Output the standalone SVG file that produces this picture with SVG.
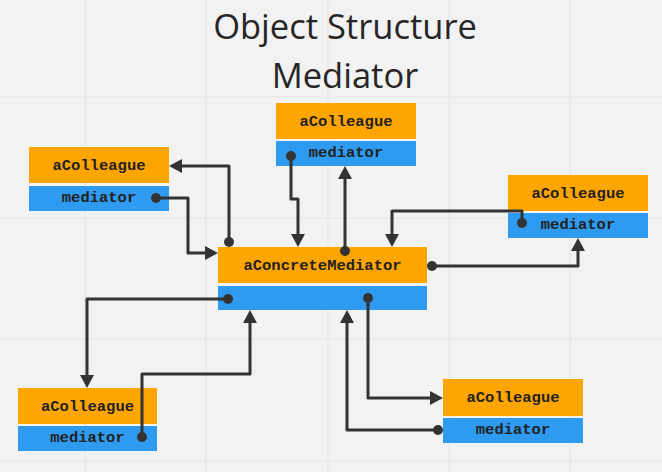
<svg xmlns="http://www.w3.org/2000/svg" width="662" height="472" viewBox="0 0 662 472">
<style>
.grid{stroke:#e3e3e3;stroke-width:1}
.hd{fill:#FFA500}
.bd{fill:#2E9BF0}
.lbl{font-family:"Liberation Mono",monospace;font-weight:bold;font-size:15.5px;fill:#222;text-anchor:middle}
.title{font-family:"Open Sans","Noto Sans",sans-serif;font-size:34.5px;fill:#262626;text-anchor:middle}
.conn{fill:none;stroke:#333;stroke-width:3;stroke-linejoin:round}
.dot{fill:#333}
</style>
<defs>
<marker id="arr" markerUnits="userSpaceOnUse" markerWidth="14" markerHeight="14" refX="7" refY="7" orient="auto">
<path d="M0,0 L13,7 L0,14 z" fill="#333"/>
</marker>
</defs>
<rect width="662" height="472" fill="#f2f2f2"/>
<g id="grid">
<line class="grid" x1="85" y1="0" x2="85" y2="472"/>
<line class="grid" x1="206" y1="0" x2="206" y2="472"/>
<line class="grid" x1="328" y1="0" x2="328" y2="472"/>
<line class="grid" x1="449" y1="0" x2="449" y2="472"/>
<line class="grid" x1="570" y1="0" x2="570" y2="472"/>
<line class="grid" x1="0" y1="97" x2="662" y2="97"/>
<line class="grid" x1="0" y1="218" x2="662" y2="218"/>
<line class="grid" x1="0" y1="339" x2="662" y2="339"/>
<line class="grid" x1="0" y1="461" x2="662" y2="461"/>
</g>
<g id="title">
<text class="title" x="345" y="39">Object Structure</text>
<text class="title" x="345" y="88">Mediator</text>
</g>
<g id="colleague-topleft">
<rect class="hd" x="29" y="147" width="140" height="36"/>
<rect class="bd" x="29" y="186" width="140" height="25"/>
<text class="lbl" x="99" y="170">aColleague</text>
<text class="lbl" x="99" y="202">mediator</text>
</g>
<g id="colleague-top">
<rect class="hd" x="276" y="103" width="140" height="36"/>
<rect class="bd" x="276" y="141" width="140" height="25"/>
<text class="lbl" x="346" y="126">aColleague</text>
<text class="lbl" x="346" y="157">mediator</text>
</g>
<g id="colleague-right">
<rect class="hd" x="508" y="175" width="140" height="36"/>
<rect class="bd" x="508" y="213" width="140" height="25"/>
<text class="lbl" x="578" y="198">aColleague</text>
<text class="lbl" x="578" y="229">mediator</text>
</g>
<g id="concrete-mediator">
<rect class="hd" x="218" y="247" width="209" height="36"/>
<rect class="bd" x="218" y="286" width="209" height="24"/>
<text class="lbl" x="322.5" y="270">aConcreteMediator</text>
</g>
<g id="colleague-bottomleft">
<rect class="hd" x="18" y="388" width="139" height="36"/>
<rect class="bd" x="18" y="426" width="139" height="25"/>
<text class="lbl" x="87.5" y="411">aColleague</text>
<text class="lbl" x="87.5" y="442">mediator</text>
</g>
<g id="colleague-bottomright">
<rect class="hd" x="443" y="379" width="140" height="37"/>
<rect class="bd" x="443" y="418" width="140" height="25"/>
<text class="lbl" x="513" y="402">aColleague</text>
<text class="lbl" x="513" y="434">mediator</text>
</g>
<g id="connectors">
<path class="conn" d="M156,198 H188 V253 H212" marker-end="url(#arr)"/>
<circle class="dot" cx="156" cy="198" r="5"/>
<path class="conn" d="M229,242 V166 H175" marker-end="url(#arr)"/>
<circle class="dot" cx="229" cy="242" r="5"/>
<path class="conn" d="M291,156 V199 H298 V241" marker-end="url(#arr)"/>
<circle class="dot" cx="291" cy="156" r="5"/>
<path class="conn" d="M345,251 V172" marker-end="url(#arr)"/>
<circle class="dot" cx="345" cy="251" r="5"/>
<path class="conn" d="M522,223 V211 H392 V241" marker-end="url(#arr)"/>
<circle class="dot" cx="522" cy="223" r="5"/>
<path class="conn" d="M432,266 H578 V244" marker-end="url(#arr)"/>
<circle class="dot" cx="432" cy="266" r="5"/>
<path class="conn" d="M228,299 H87 V382" marker-end="url(#arr)"/>
<circle class="dot" cx="228" cy="299" r="5"/>
<path class="conn" d="M142,437 V374 H250 V316" marker-end="url(#arr)"/>
<circle class="dot" cx="142" cy="437" r="5"/>
<path class="conn" d="M368,298 V398 H437" marker-end="url(#arr)"/>
<circle class="dot" cx="368" cy="298" r="5"/>
<path class="conn" d="M438,430 H347 V316" marker-end="url(#arr)"/>
<circle class="dot" cx="438" cy="430" r="5"/>
</g>
</svg>
